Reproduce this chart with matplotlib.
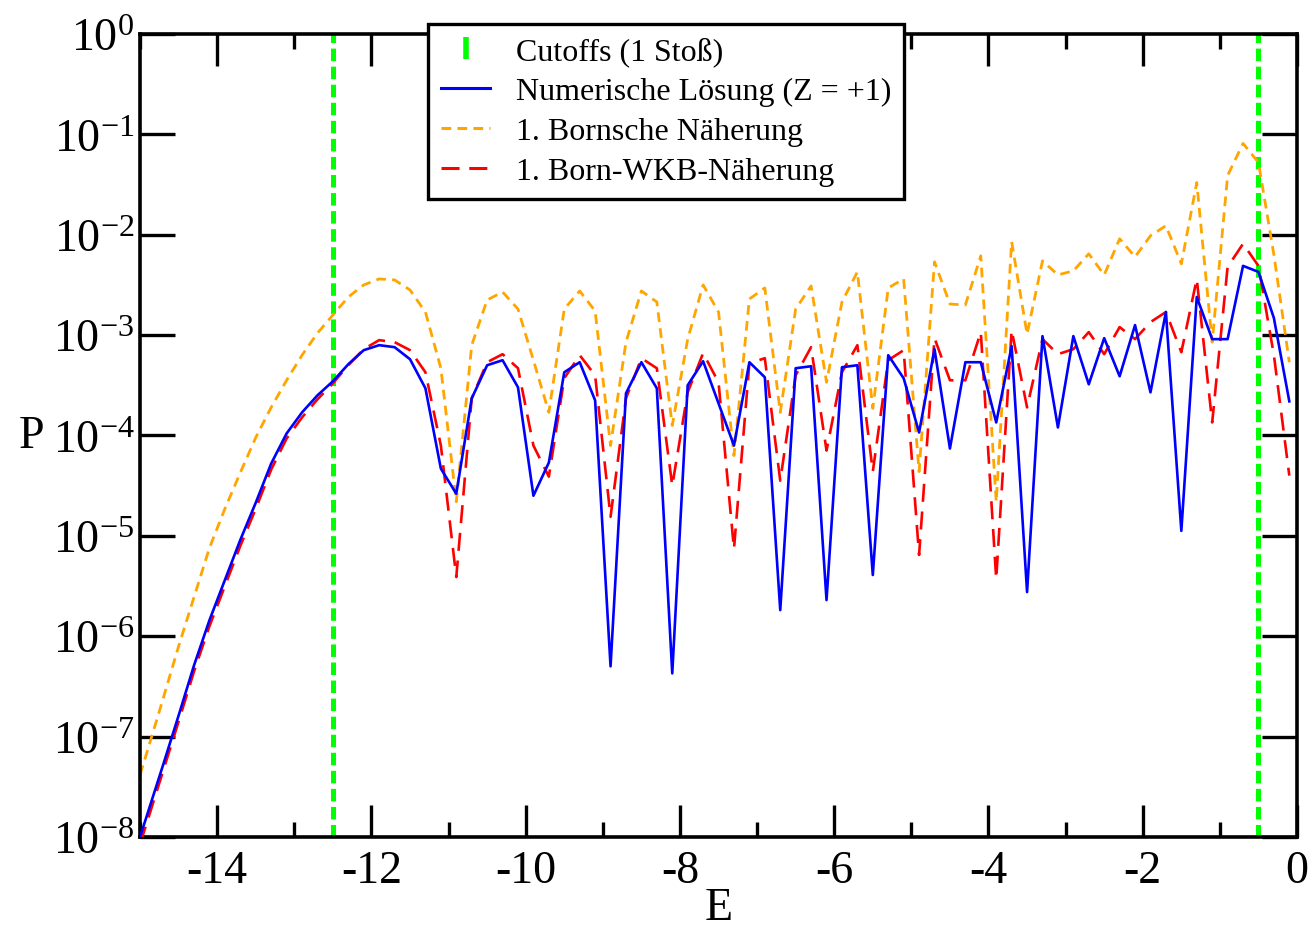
import numpy as np
import matplotlib
matplotlib.use("Agg")
import matplotlib.pyplot as plt
from matplotlib.lines import Line2D
from matplotlib.ticker import FixedLocator, FixedFormatter, MultipleLocator

plt.rcParams["font.family"] = ["Liberation Serif", "DejaVu Serif"]
plt.rcParams["mathtext.fontset"] = "custom"
plt.rcParams["mathtext.rm"] = "Liberation Serif"
plt.rcParams["mathtext.it"] = "Liberation Serif:italic"
plt.rcParams["axes.unicode_minus"] = False
plt.rcParams["lines.scale_dashes"] = False

# ── data (log10 P) ───────────────────────────────────────────────────────────
# sampling grid: -15.0, then -14.9 ... -0.1 in steps of 0.2
E = np.concatenate([[-15.0], np.round(np.arange(-14.9, 0.0, 0.2), 1)])

logP_num = [
    -8.00,
    -7.76, -7.28, -6.79, -6.29, -5.84, -5.44, -5.04, -4.67, -4.28, -3.98,
    -3.77, -3.60, -3.46, -3.29, -3.15, -3.10, -3.12, -3.24, -3.53, -4.33,
    -4.58, -3.63, -3.30, -3.25, -3.52, -4.60, -4.27, -3.37, -3.27, -3.65,
    -6.30, -3.58, -3.27, -3.53, -6.37, -3.50, -3.26, -3.68, -4.10, -3.27,
    -3.42, -5.74, -3.33, -3.31, -5.64, -3.32, -3.30, -5.39, -3.20, -3.43,
    -3.97, -3.14, -4.13, -3.27, -3.27, -3.87, -3.11, -5.56, -3.01, -3.92,
    -3.01, -3.49, -3.03, -3.41, -2.90, -3.57, -2.77, -4.95, -2.62, -3.04,
    -3.04, -2.31, -2.37, -2.83, -3.66,
]

logP_born = [
    -7.38,
    -7.13, -6.62, -6.10, -5.61, -5.12, -4.73, -4.37, -4.02, -3.72, -3.45,
    -3.20, -2.98, -2.80, -2.62, -2.50, -2.44, -2.45, -2.55, -2.77, -3.33,
    -4.66, -3.10, -2.65, -2.57, -2.74, -3.25, -3.77, -2.74, -2.56, -2.76,
    -4.10, -3.07, -2.56, -2.67, -3.90, -3.04, -2.50, -2.77, -4.20, -2.64,
    -2.53, -3.77, -2.74, -2.51, -3.47, -2.67, -2.37, -3.73, -2.53, -2.44,
    -4.36, -2.27, -2.69, -2.70, -2.21, -4.66, -2.07, -2.99, -2.26, -2.40,
    -2.36, -2.19, -2.40, -2.04, -2.22, -2.01, -1.91, -2.29, -1.48, -3.07,
    -1.41, -1.09, -1.28, -2.20, -3.27,
]

logP_wkb = [
    -8.07,
    -7.83, -7.34, -6.85, -6.35, -5.90, -5.50, -5.10, -4.73, -4.34, -4.03,
    -3.82, -3.64, -3.48, -3.30, -3.14, -3.05, -3.07, -3.15, -3.37, -4.10,
    -5.41, -3.63, -3.27, -3.19, -3.33, -4.10, -4.41, -3.43, -3.20, -3.40,
    -4.81, -3.63, -3.23, -3.33, -4.50, -3.57, -3.18, -3.47, -5.13, -3.28,
    -3.23, -4.45, -3.40, -3.12, -4.15, -3.37, -3.10, -4.36, -3.25, -3.15,
    -5.19, -3.03, -3.45, -3.45, -2.97, -5.43, -2.95, -3.72, -3.04, -3.19,
    -3.14, -2.97, -3.19, -2.92, -3.04, -2.87, -2.77, -3.17, -2.44, -3.87,
    -2.32, -2.09, -2.31, -3.20, -4.40,
]

CUTOFFS = [-12.5, -0.5]

Y_DECADES = list(range(-8, 1))
X_MAJOR = [-14, -12, -10, -8, -6, -4, -2, 0]

BLUE   = "#0000ff"
ORANGE = "#ffa500"
RED    = "#ff0000"
GREEN  = "#00ff00"

# ── figure ────────────────────────────────────────────────────────────────────
fig = plt.figure(figsize=(13.10, 9.29), dpi=100, facecolor="white")
ax = fig.add_axes([0.1069, 0.0980, 0.8832, 0.8643])

for x in CUTOFFS:
    ax.axvline(x, color=GREEN, lw=3.6, dashes=(9, 4), zorder=1)

ax.plot(E, 10.0 ** np.array(logP_born), color=ORANGE, lw=2.0,
        dashes=(7, 4.5), zorder=2)
ax.plot(E, 10.0 ** np.array(logP_wkb), color=RED, lw=1.9,
        dashes=(13, 7), zorder=3)
ax.plot(E, 10.0 ** np.array(logP_num), color=BLUE, lw=1.9, zorder=4)

ax.set_yscale("log")
ax.set_xlim(-15, 0)
ax.set_ylim(1e-8, 1e0)

ax.xaxis.set_major_locator(FixedLocator(X_MAJOR))
ax.xaxis.set_minor_locator(MultipleLocator(1))
ax.set_xticklabels([str(v) for v in X_MAJOR])

ax.yaxis.set_major_locator(FixedLocator([10.0 ** d for d in Y_DECADES]))
ax.yaxis.set_major_formatter(FixedFormatter(
    [r"$10^{%d}$" % d for d in Y_DECADES]))
ax.yaxis.set_minor_locator(FixedLocator([]))

ax.tick_params(which="both", direction="in", top=True, right=True,
               labelsize=33, width=2.4)
ax.tick_params(axis="x", which="major", length=23, pad=9)
ax.tick_params(axis="x", which="minor", length=11)
ax.tick_params(axis="y", which="major", length=25, pad=4)
for sp in ax.spines.values():
    sp.set_linewidth(2.6)

ax.set_xlabel("E", fontsize=33)
ax.set_ylabel("P", fontsize=33, rotation=0)
ax.xaxis.set_label_coords(0.5, -0.088)
ax.xaxis.label.set_va("center")
ax.yaxis.set_label_coords(-0.094, 0.5)
ax.yaxis.label.set_va("center")

handles = [
    Line2D([], [], color=GREEN, marker="|", linestyle="None",
           markersize=16, mew=4),
    Line2D([], [], color=BLUE, lw=2.2),
    Line2D([], [], color=ORANGE, lw=2.2, dashes=(7, 4.5)),
    Line2D([], [], color=RED, lw=2.2, dashes=(13, 7)),
]
labels = [
    "Cutoffs (1 Stoß)",
    "Numerische Lösung (Z = +1)",
    "1. Bornsche Näherung",
    "1. Born-WKB-Näherung",
]
leg = ax.legend(handles, labels, loc="upper left",
                bbox_to_anchor=(0.3267, 0.9731),
                bbox_transform=fig.transFigure, borderaxespad=0,
                fontsize=23, frameon=True, fancybox=False, framealpha=1,
                edgecolor="black", handlelength=1.55, handletextpad=0.8,
                labelspacing=0.33, borderpad=0.4, numpoints=1)
leg.get_frame().set_linewidth(2.4)
leg.set_zorder(10)

fig.savefig("out.png", dpi=100, facecolor="white")
